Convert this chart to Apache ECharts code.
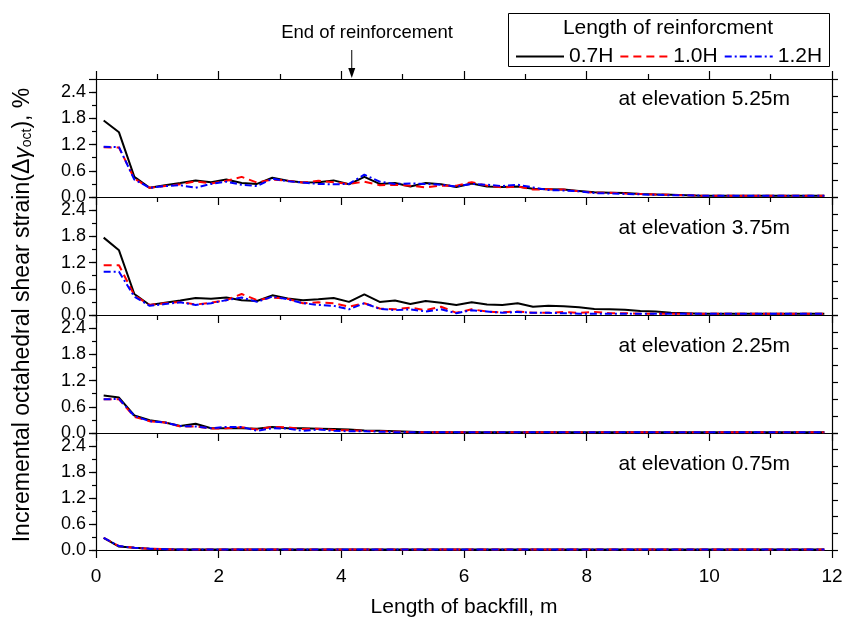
<!DOCTYPE html>
<html><head><meta charset="utf-8">
<script src="https://cdn.jsdelivr.net/npm/echarts@6/dist/echarts.min.js"></script>
<style>html,body{margin:0;padding:0;background:#fff}#c{width:851px;height:619px}</style>
</head><body><div id="c"></div>
<script>
// x positions of the computed points (m)
const xValues = [0.125,0.375,0.625,0.875,1.125,1.375,1.625,1.875,2.125,2.375,2.625,2.875,3.125,3.375,3.625,3.875,4.125,4.375,4.625,4.875,5.125,5.375,5.625,5.875,6.125,6.375,6.625,6.875,7.125,7.375,7.625,7.875,8.125,8.375,8.625,8.875,9.125,9.375,9.625,9.875,10.125,10.375,10.625,10.875,11.125,11.375,11.625,11.875];

const seriesNames = ['0.7H','1.0H','1.2H'];
const panelLabels = ['at elevation 5.25m','at elevation 3.75m','at elevation 2.25m','at elevation 0.75m'];
const yTickLabels = ['0.0','0.6','1.2','1.8','2.4'];
const endOfReinforcementX = 4.17;

// elevation 5.25 m
const e525_07 = [1.75,1.48,0.46,0.21,0.27,0.32,0.38,0.34,0.40,0.32,0.30,0.44,0.37,0.33,0.34,0.38,0.29,0.46,0.30,0.32,0.24,0.32,0.29,0.23,0.31,0.24,0.23,0.24,0.19,0.18,0.17,0.14,0.11,0.10,0.09,0.07,0.06,0.05,0.04,0.03,0.03,0.03,0.03,0.03,0.03,0.03,0.03,0.03];
const e525_10 = [1.14,1.13,0.42,0.21,0.25,0.29,0.36,0.31,0.37,0.46,0.33,0.40,0.37,0.33,0.37,0.34,0.30,0.35,0.27,0.28,0.26,0.22,0.26,0.26,0.34,0.26,0.22,0.24,0.17,0.18,0.17,0.13,0.10,0.10,0.08,0.07,0.06,0.05,0.04,0.03,0.03,0.03,0.03,0.03,0.03,0.03,0.03,0.03];
const e525_12 = [1.15,1.14,0.40,0.21,0.25,0.27,0.21,0.30,0.35,0.28,0.25,0.42,0.36,0.33,0.30,0.29,0.30,0.51,0.35,0.30,0.31,0.30,0.28,0.24,0.30,0.28,0.25,0.28,0.22,0.16,0.15,0.13,0.09,0.08,0.07,0.06,0.05,0.04,0.04,0.03,0.03,0.03,0.03,0.03,0.03,0.03,0.03,0.03];
// elevation 3.75 m
const e375_07 = [1.77,1.48,0.48,0.23,0.28,0.33,0.39,0.37,0.40,0.34,0.32,0.45,0.38,0.34,0.36,0.39,0.30,0.47,0.30,0.33,0.25,0.32,0.28,0.23,0.29,0.24,0.23,0.27,0.19,0.21,0.20,0.18,0.14,0.13,0.12,0.09,0.08,0.05,0.04,0.03,0.03,0.03,0.03,0.03,0.03,0.03,0.03,0.03];
const e375_10 = [1.14,1.14,0.45,0.23,0.27,0.30,0.24,0.28,0.34,0.48,0.34,0.40,0.37,0.27,0.29,0.27,0.19,0.27,0.15,0.13,0.17,0.11,0.19,0.05,0.13,0.08,0.06,0.08,0.05,0.05,0.07,0.05,0.07,0.04,0.04,0.03,0.03,0.03,0.03,0.03,0.03,0.03,0.03,0.03,0.03,0.03,0.03,0.03];
const e375_12 = [0.99,0.99,0.42,0.21,0.25,0.29,0.23,0.27,0.34,0.40,0.30,0.42,0.36,0.27,0.23,0.21,0.13,0.27,0.14,0.11,0.13,0.08,0.13,0.04,0.11,0.08,0.05,0.07,0.05,0.05,0.04,0.03,0.03,0.03,0.03,0.03,0.03,0.03,0.03,0.03,0.03,0.03,0.03,0.03,0.03,0.03,0.03,0.03];
// elevation 2.25 m
const e225_07 = [0.86,0.81,0.40,0.29,0.24,0.16,0.21,0.11,0.11,0.11,0.10,0.14,0.11,0.11,0.10,0.09,0.08,0.06,0.05,0.04,0.03,0.02,0.02,0.02,0.02,0.02,0.02,0.02,0.02,0.02,0.02,0.02,0.02,0.02,0.02,0.02,0.02,0.02,0.02,0.02,0.02,0.02,0.02,0.02,0.02,0.02,0.02,0.02];
const e225_10 = [0.77,0.77,0.37,0.27,0.24,0.15,0.15,0.10,0.11,0.13,0.08,0.14,0.13,0.09,0.10,0.07,0.06,0.05,0.04,0.03,0.02,0.02,0.02,0.02,0.02,0.02,0.02,0.02,0.02,0.02,0.02,0.02,0.02,0.02,0.02,0.02,0.02,0.02,0.02,0.02,0.02,0.02,0.02,0.02,0.02,0.02,0.02,0.02];
const e225_12 = [0.77,0.78,0.39,0.27,0.24,0.16,0.15,0.11,0.14,0.14,0.05,0.11,0.10,0.05,0.08,0.05,0.04,0.04,0.03,0.02,0.02,0.02,0.02,0.02,0.02,0.02,0.02,0.02,0.02,0.02,0.02,0.02,0.02,0.02,0.02,0.02,0.02,0.02,0.02,0.02,0.02,0.02,0.02,0.02,0.02,0.02,0.02,0.02];
// elevation 0.75 m
const e075_07 = [0.28,0.08,0.05,0.03,0.02,0.01,0.01,0.01,0.01,0.01,0.01,0.01,0.01,0.01,0.01,0.01,0.01,0.01,0.01,0.01,0.01,0.01,0.01,0.01,0.01,0.01,0.01,0.01,0.01,0.01,0.01,0.01,0.01,0.01,0.01,0.01,0.01,0.01,0.01,0.01,0.01,0.01,0.01,0.01,0.01,0.01,0.01,0.01];
const e075_10 = [0.28,0.09,0.05,0.03,0.02,0.01,0.01,0.01,0.01,0.01,0.01,0.01,0.01,0.01,0.01,0.01,0.01,0.01,0.01,0.01,0.01,0.01,0.01,0.01,0.01,0.01,0.01,0.01,0.01,0.01,0.01,0.01,0.01,0.01,0.01,0.01,0.01,0.01,0.01,0.01,0.01,0.01,0.01,0.01,0.01,0.01,0.01,0.01];
const e075_12 = [0.28,0.09,0.05,0.03,0.02,0.01,0.01,0.01,0.01,0.01,0.01,0.01,0.01,0.01,0.01,0.01,0.01,0.01,0.01,0.01,0.01,0.01,0.01,0.01,0.01,0.01,0.01,0.01,0.01,0.01,0.01,0.01,0.01,0.01,0.01,0.01,0.01,0.01,0.01,0.01,0.01,0.01,0.01,0.01,0.01,0.01,0.01,0.01];

const panelData = [[e525_07,e525_10,e525_12],[e375_07,e375_10,e375_12],[e225_07,e225_10,e225_12],[e075_07,e075_10,e075_12]];

const FONT = '"Liberation Sans", Arial, sans-serif';
const lineColors = ['#000000','#ff0000','#0000ff'];
const lineStyles = [
  {color:lineColors[0], width:2, type:'solid'},
  {color:lineColors[1], width:2, type:[8,5]},
  {color:lineColors[2], width:2, type:[7,3,2,3]}
];
const TOP = 79, H = 118, LEFT = 96, RIGHT = 19;
const axisLineStyle = {color:'#000', width:1.2};

const grids = [], xAxes = [], yAxes = [], series = [];
for (let p = 0; p < 4; p++) {
  grids.push({left: LEFT, right: RIGHT, top: TOP + H*p, height: H});
  const last = p === 3;
  xAxes.push({
    type:'value', gridIndex:p, position:'bottom', min:0, max:12, interval:2,
    axisLine:{show:true, onZero:false, lineStyle:axisLineStyle},
    axisTick:{show:true, inside:false, length:8, lineStyle:{color:'#000', width:1.2}},
    minorTick:{show:true, splitNumber:2, length:5, lineStyle:{color:'#000', width:1.2}},
    splitLine:{show:false}, minorSplitLine:{show:false},
    axisLabel:{show:last, fontSize:19, color:'#000', fontFamily:FONT, margin:17},
    name: last ? 'Length of backfill, m' : '',
    nameLocation:'middle', nameGap:47,
    nameTextStyle:{fontSize:21, color:'#000', fontFamily:FONT}
  });
  yAxes.push({
    type:'value', gridIndex:p, position:'left', min:0, max:2.7, interval:0.3,
    axisLine:{show:true, onZero:false, lineStyle:axisLineStyle},
    axisTick:{show:true, inside:false, length:4, lineStyle:{color:'#000', width:1.2}},
    splitLine:{show:false},
    axisLabel:{show:true, fontSize:18, color:'#000', fontFamily:FONT, margin:10,
      showMaxLabel:false,
      formatter: function(v){ const k = Math.round(v*10); const i = yTickLabels.indexOf((k/10).toFixed(1)); return (k % 6 === 0 && i >= 0) ? yTickLabels[i] : ''; }}
  });
  yAxes.push({
    type:'value', gridIndex:p, position:'left', min:0, max:2.7, interval:0.6,
    axisLine:{show:false}, axisLabel:{show:false}, splitLine:{show:false},
    axisTick:{show:true, inside:false, length:7, lineStyle:{color:'#000', width:1.2}}
  });
  yAxes.push({
    type:'value', gridIndex:p, position:'right', min:0, max:7, interval:1,
    axisLine:{show:true, onZero:false, lineStyle:axisLineStyle},
    axisLabel:{show:false}, splitLine:{show:false},
    axisTick:{show:true, inside:false, length:6, lineStyle:{color:'#000', width:1.2}}
  });
  for (let s = 0; s < 3; s++) {
    series.push({
      type:'line', name:seriesNames[s], xAxisIndex:p, yAxisIndex:3*p,
      data: xValues.map((x,i) => [x, panelData[p][s][i]]),
      showSymbol:false, symbol:'none', lineStyle:lineStyles[s],
      itemStyle:{color:lineColors[s]},
      silent:true, animation:false, z: 2+s
    });
  }
}
xAxes.push({
  type:'value', gridIndex:0, position:'top', min:0, max:12, interval:2,
  axisLine:{show:true, onZero:false, lineStyle:axisLineStyle},
  axisTick:{show:true, inside:false, length:8, lineStyle:{color:'#000', width:1.2}},
  minorTick:{show:true, splitNumber:2, length:5, lineStyle:{color:'#000', width:1.2}},
  splitLine:{show:false}, minorSplitLine:{show:false}, axisLabel:{show:false}
});

const chart = echarts.init(document.getElementById('c'), null, {renderer:'canvas'});
chart.setOption({
  animation:false,
  backgroundColor:'#fff',
  grid:grids, xAxis:xAxes, yAxis:yAxes, series:series,
  legend:{
    data:seriesNames, left:510, top:41, itemWidth:48, itemHeight:14, itemGap:6,
    itemStyle:{opacity:0, color:'rgba(0,0,0,0)', borderWidth:0},
    textStyle:{fontSize:21, color:'#000', fontFamily:FONT},
    selectedMode:false
  }
});

const arrowX = chart.convertToPixel({xAxisIndex:4}, endOfReinforcementX);
const graphics = [
  {type:'rect', shape:{x:508.5, y:13.5, width:321, height:53}, style:{fill:'none', stroke:'#000', lineWidth:1}, z:10},
  {type:'text', x:668, y:28, style:{text:'Length of reinforcment', fontSize:21, fontFamily:FONT, fill:'#000', align:'center', verticalAlign:'middle'}, z:10},
  {type:'text', x:367, y:33, style:{text:'End of reinforcement', fontSize:18.5, fontFamily:FONT, fill:'#000', align:'center', verticalAlign:'middle'}, z:10},
  {type:'line', shape:{x1:arrowX, y1:50, x2:arrowX, y2:70}, style:{stroke:'#000', lineWidth:1}, z:10},
  {type:'polygon', shape:{points:[[arrowX-3.5,68],[arrowX+3.5,68],[arrowX,78]]}, style:{fill:'#000'}, z:10},
  {type:'text', x:23, y:315, rotation:Math.PI/2,
    style:{text:'Incremental octahedral shear strain(Δ{g|γ}{sub|oct}), %', fontSize:23, fontFamily:FONT, fill:'#000', align:'center', verticalAlign:'middle',
      rich:{g:{fontSize:23, fontStyle:'italic', fontFamily:FONT, fill:'#000'}, sub:{fontSize:14, fontFamily:FONT, fill:'#000', verticalAlign:'bottom'}}}, z:10}
];
for (let p = 0; p < 4; p++) {
  graphics.push({type:'text', x:790, y: TOP + H*p + (p === 0 ? 20 : 31),
    style:{text:panelLabels[p], fontSize:21, fontFamily:FONT, fill:'#000', align:'right', verticalAlign:'middle'}, z:10});
}
chart.setOption({graphic:graphics});
</script>
</body></html>
